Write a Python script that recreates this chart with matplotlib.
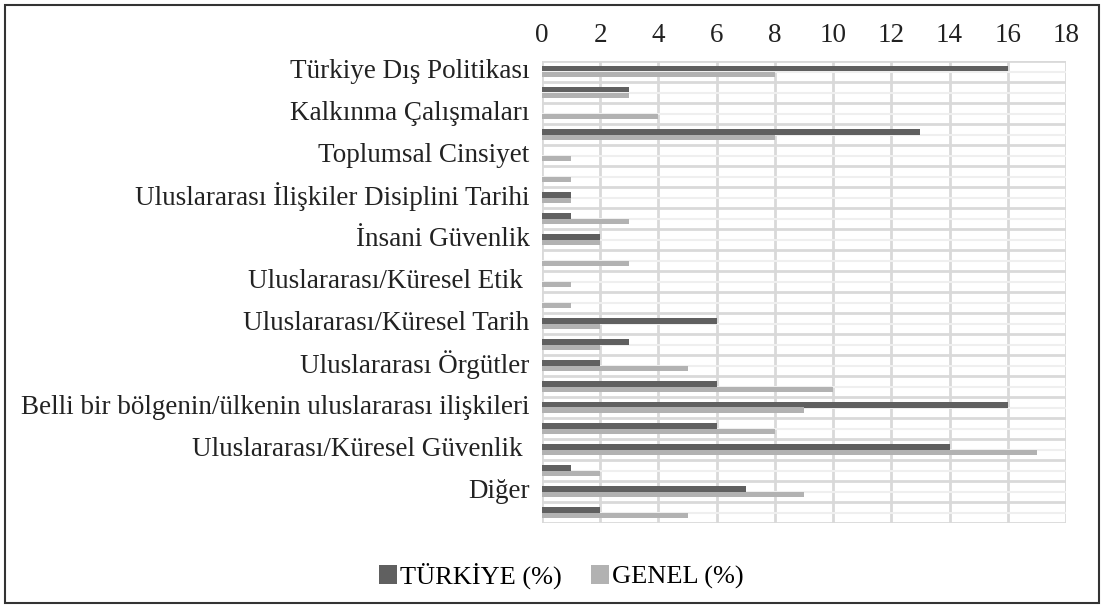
import matplotlib
matplotlib.use('Agg')
import matplotlib.pyplot as plt
from matplotlib.patches import Rectangle
from matplotlib.transforms import ScaledTranslation
import numpy as np

# 22 rows, only every other row carries a visible label in the source
categories = [
    "Türkiye Dış Politikası", "",
    "Kalkınma Çalışmaları", "",
    "Toplumsal Cinsiyet", "",
    "Uluslararası İlişkiler Disiplini Tarihi", "",
    "İnsani Güvenlik", "",
    "Uluslararası/Küresel Etik ", "",
    "Uluslararası/Küresel Tarih", "",
    "Uluslararası Örgütler", "",
    "Belli bir bölgenin/ülkenin uluslararası ilişkileri", "",
    "Uluslararası/Küresel Güvenlik ", "",
    "Diğer", "",
]
turkiye = [16, 3, 0, 13, 0, 0, 1, 1, 2, 0, 0, 0, 6, 3, 2, 6, 16, 6, 14, 1, 7, 2]
genel = [8, 3, 4, 8, 1, 1, 1, 3, 2, 3, 1, 1, 2, 2, 5, 10, 9, 8, 17, 2, 9, 5]
xticks = list(range(0, 19, 2))

plt.rcParams['font.family'] = ['Liberation Serif', 'DejaVu Serif']

fig = plt.figure(figsize=(11.05, 6.07), dpi=100)
ax = fig.add_axes([542 / 1105, 1 - 523 / 607, 524 / 1105, 462 / 607])

y = np.arange(len(categories))
h = 0.285
b1 = ax.barh(y - h / 2, turkiye, height=h, color='#606060', zorder=3,
             label='TÜRKİYE (%)')
b2 = ax.barh(y + h / 2, genel, height=h, color='#b2b2b2', zorder=3,
             label='GENEL (%)')

ax.set_xlim(0, 18)
ax.set_ylim(len(categories) - 0.5, -0.5)
ax.set_xticks(xticks)
ax.xaxis.tick_top()
ax.tick_params(axis='x', length=0, pad=9, labelsize=19.5, colors='#222222')
ax.set_yticks(y)
ax.set_yticklabels(categories)
ax.tick_params(axis='y', length=0, pad=9, labelsize=19.5, colors='#222222')

# nudge the row labels up a little, as in the source
shift = ScaledTranslation(0, 2.5 / 72, fig.dpi_scale_trans)
for lbl in ax.get_yticklabels():
    lbl.set_transform(lbl.get_transform() + shift)

# grid: vertical at ticks, horizontal at row edges and row centers
for xv in xticks:
    ax.axvline(xv, color='#d9d9d9', lw=2, zorder=1)
for yb in np.arange(-0.5, len(categories), 1.0):
    ax.axhline(yb, color='#d9d9d9', lw=2, zorder=1)
for yc in y:
    ax.axhline(yc, color='#efefef', lw=1.5, zorder=1)
for s in ax.spines.values():
    s.set_visible(False)

fig.legend(handles=[b1, b2], loc='center', bbox_to_anchor=(561 / 1105, 1 - 576 / 607),
           ncol=2, frameon=False, fontsize=19, handlelength=0.7, handleheight=0.7,
           handletextpad=0.1, columnspacing=1.1, borderpad=0)

# outer frame around the whole chart
fig.patches.append(Rectangle((5 / 1105, 4 / 607), 1094 / 1105, 598 / 607,
                             transform=fig.transFigure, fill=False,
                             edgecolor='#333333', lw=1.5))

fig.savefig('out.png', dpi=100)
plt.close()
